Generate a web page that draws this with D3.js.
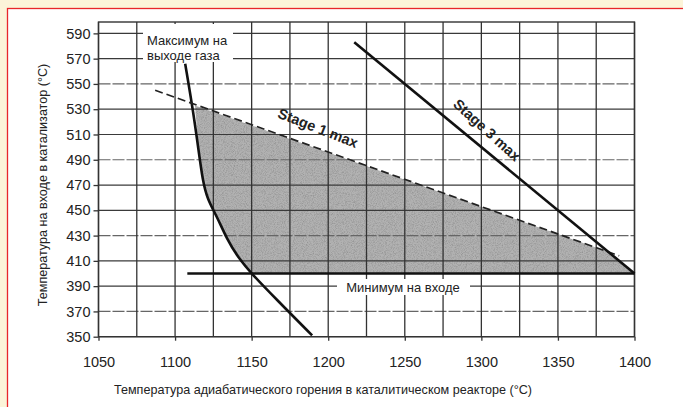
<!DOCTYPE html>
<meta charset="utf-8">
<style>
body { margin: 0; background: #fcf4d9; }
text { font-family: "Liberation Sans", Arial, sans-serif; fill: #222; }
</style>
<body>
<script src="https://d3js.org/d3.v7.min.js"></script>
<script>
var width = 683,
    height = 407;

// values
var xTicks = [1050, 1100, 1150, 1200, 1250, 1300, 1350, 1400];
var xGrid = [1050, 1075, 1100, 1125, 1150, 1175, 1200, 1225, 1250, 1275, 1300, 1325, 1350, 1375, 1400];
var yTicks = [350, 370, 390, 410, 430, 450, 470, 490, 510, 530, 550, 570, 590];

var outletMax = [[1106.6, 566], [1112, 527], [1115.5, 496], [1118, 474], [1121, 459], [1127.4, 445],
                 [1133.9, 427], [1141.3, 412.5], [1149.8, 400], [1166.6, 379], [1189.5, 351]];
var stage1 = [[1087, 545], [1390, 414]];
var stage3 = [[1217, 583], [1400, 400]];
var inletMin = [[1108, 400], [1400, 400]];
var window_ = [[1113, 533], [1115.5, 496], [1118, 474], [1121, 459], [1127.4, 445], [1133.9, 427],
               [1141.3, 412.5], [1149.8, 400], [1400, 400], [1383, 417]];

var x = d3.scaleLinear().domain([1050, 1400]).range([98.5, 634.5]);
var y = d3.scaleLinear().domain([350, 599]).range([336.7, 22]);

var svg = d3.select("body").append("svg")
    .attr("width", width)
    .attr("height", height);

// page frame
svg.append("rect").attr("x", 7.5).attr("y", 8.5).attr("width", width).attr("height", height)
    .attr("fill", "white").attr("stroke", "#e8262a").attr("stroke-width", 1.3);

var defs = svg.append("defs");
var f = defs.append("filter").attr("id", "grain").attr("x", 0).attr("y", 0).attr("width", 1).attr("height", 1);
f.append("feTurbulence").attr("type", "fractalNoise").attr("baseFrequency", 1.1).attr("numOctaves", 2).attr("result", "n");
f.append("feColorMatrix").attr("in", "n").attr("type", "matrix")
    .attr("values", "0 0 0 0 0.3  0 0 0 0 0.3  0 0 0 0 0.3  0 0 0 2.2 -0.85").attr("result", "g");
f.append("feComposite").attr("in", "g").attr("in2", "SourceGraphic").attr("operator", "in").attr("result", "gc");
var m = f.append("feMerge");
m.append("feMergeNode").attr("in", "SourceGraphic");
m.append("feMergeNode").attr("in", "gc");

var line = d3.line().x(d => x(d[0])).y(d => y(d[1]));

// operating window
svg.append("path")
    .attr("d", line(window_) + "Z")
    .attr("fill", "#b2b2b2")
    .attr("filter", "url(#grain)");

// grid
svg.append("g").selectAll("line")
    .data(yTicks).enter().append("line")
    .attr("x1", x(1050)).attr("x2", x(1400))
    .attr("y1", d => y(d)).attr("y2", d => y(d))
    .attr("stroke", (d, i) => i % 3 == 1 ? "#666" : "#3a3a3a")
    .attr("stroke-width", 1.2)
    .attr("stroke-dasharray", (d, i) => i % 3 == 1 ? "12,2" : null);

svg.append("g").selectAll("line")
    .data(xGrid).enter().append("line")
    .attr("x1", d => x(d)).attr("x2", d => x(d))
    .attr("y1", y(599)).attr("y2", y(350))
    .attr("stroke", "#333")
    .attr("stroke-width", 1.3);

svg.append("rect")
    .attr("x", x(1050)).attr("y", y(599))
    .attr("width", x(1400) - x(1050)).attr("height", y(350) - y(599))
    .attr("fill", "none").attr("stroke", "#333").attr("stroke-width", 1.4);

// axes
var yAxis = svg.append("g")
    .attr("transform", "translate(" + x(1050) + ",0)")
    .call(d3.axisLeft(y).tickValues(yTicks).tickSize(5).tickPadding(3));
var xAxis = svg.append("g")
    .attr("transform", "translate(0," + y(350) + ")")
    .call(d3.axisBottom(x).tickValues(xTicks).tickFormat(d3.format("d")).tickSize(4).tickPadding(16));
[yAxis, xAxis].forEach(function(a) {
  a.select(".domain").remove();
  a.selectAll(".tick line").attr("stroke", "#333").attr("stroke-width", 1.3);
  a.selectAll("text").attr("font-size", 14.5).attr("fill", "#333")
      .attr("font-family", "Liberation Sans, Arial, sans-serif");
});

// labels with white boxes
svg.append("rect").attr("x", 143).attr("y", 24).attr("width", 90).attr("height", 38).attr("fill", "white");
svg.append("text").attr("x", 147).attr("y", 45).attr("font-size", 13).text("Максимум на");
svg.append("text").attr("x", 147).attr("y", 60).attr("font-size", 13).text("выходе газа");

svg.append("rect").attr("x", 337).attr("y", 279).attr("width", 133).attr("height", 16).attr("fill", "white");
svg.append("text").attr("x", 403).attr("y", 292).attr("text-anchor", "middle").attr("font-size", 13)
    .text("Минимум на входе");

// curves
svg.append("path").attr("d", line.curve(d3.curveBasis)(outletMax))
    .attr("fill", "none").attr("stroke", "#111").attr("stroke-width", 2.6);
line.curve(d3.curveLinear);
svg.append("path").attr("d", line(stage1))
    .attr("fill", "none").attr("stroke", "#222").attr("stroke-width", 1.7).attr("stroke-dasharray", "8,4");
svg.append("path").attr("d", line(stage3))
    .attr("fill", "none").attr("stroke", "#111").attr("stroke-width", 2.6);
svg.append("path").attr("d", line(inletMin))
    .attr("fill", "none").attr("stroke", "#111").attr("stroke-width", 2.6);

svg.append("text").attr("transform", "translate(318,128) rotate(21.5)")
    .attr("text-anchor", "middle").attr("dy", "0.35em").attr("font-size", 14.5).attr("font-weight", "bold")
    .attr("fill", "#333").text("Stage 1 max");
svg.append("text").attr("transform", "translate(487,130) rotate(42)")
    .attr("text-anchor", "middle").attr("dy", "0.35em").attr("font-size", 14.5).attr("font-weight", "bold")
    .attr("fill", "#333").text("Stage 3 max");

// axis titles
svg.append("text").attr("x", 323).attr("y", 394).attr("text-anchor", "middle").attr("font-size", 12.6)
    .text("Температура адиабатического горения в каталитическом реакторе  (°C)");
svg.append("text").attr("transform", "translate(47,185) rotate(-90)").attr("text-anchor", "middle")
    .attr("font-size", 12.6).text("Температура на входе в катализатор  (°C)");
</script>
</body>
</html>
